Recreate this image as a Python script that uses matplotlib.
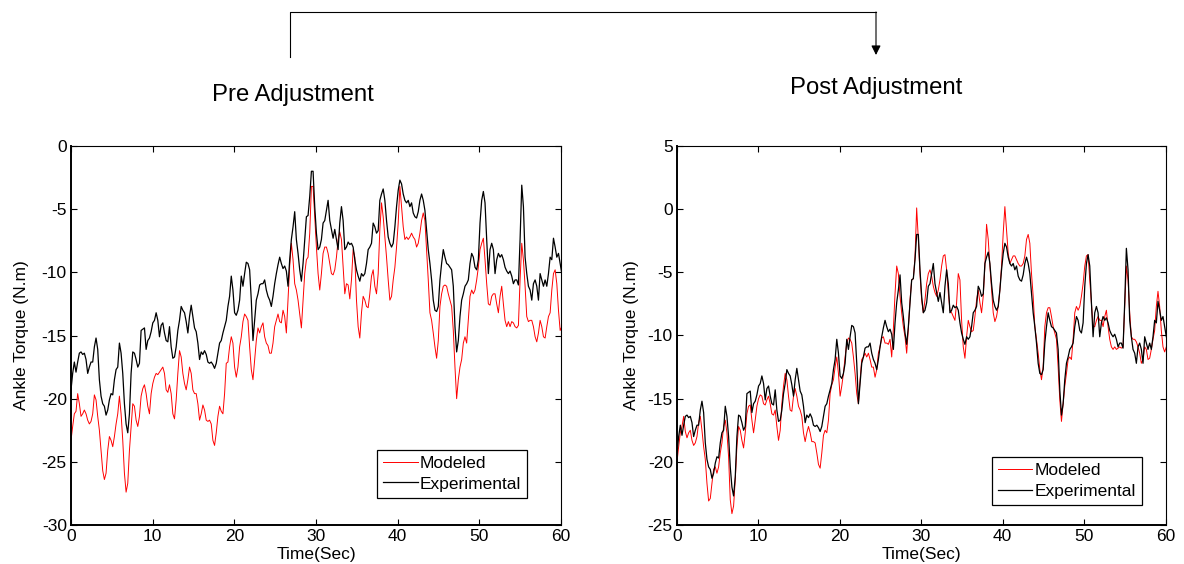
import matplotlib
matplotlib.use('Agg')
import matplotlib.pyplot as plt
import numpy as np
from matplotlib.lines import Line2D

plt.rcParams['font.family'] = ['Liberation Sans', 'DejaVu Sans']
plt.rcParams['axes.unicode_minus'] = False

# ankle torque traces, ~0.2 s apart
experimental = [
    -19.3, -18.0, -17.1, -17.9, -17.1, -16.4, -16.3, -16.5, -16.4, -16.9,
    -18.0, -17.5, -17.1, -17.1, -15.9, -15.2, -16.1, -18.5, -19.8, -20.4,
    -20.6, -21.3, -20.9, -20.1, -19.6, -19.7, -18.5, -17.7, -17.5, -15.6,
    -16.4, -18.0, -20.4, -22.0, -22.7, -21.2, -18.0, -16.3, -16.4, -16.9,
    -17.5, -17.2, -14.6, -14.5, -14.4, -16.1, -15.4, -15.2, -14.7, -14.0,
    -13.8, -13.2, -13.8, -15.1, -14.2, -14.0, -14.8, -15.4, -15.5, -14.3,
    -15.9, -16.8, -16.7, -15.9, -14.6, -13.8, -12.7, -13.0, -13.2, -13.9,
    -14.8, -13.5, -12.6, -13.5, -14.4, -14.7, -15.6, -16.9, -16.3, -16.5,
    -16.2, -16.5, -17.1, -17.2, -17.1, -17.3, -17.6, -17.2, -16.4, -15.6,
    -15.4, -14.8, -14.3, -13.8, -12.7, -11.9, -10.3, -11.4, -13.2, -13.4,
    -13.0, -12.2, -10.3, -11.1, -10.1, -9.2, -9.3, -9.8, -12.2, -15.4,
    -13.8, -12.2, -11.7, -11.0, -10.9, -10.9, -10.6, -11.4, -11.9, -12.2,
    -12.7, -11.9, -10.9, -10.1, -9.4, -8.8, -9.3, -9.7, -9.5, -9.9,
    -11.1, -9.0, -7.4, -6.4, -5.2, -7.4, -8.5, -9.8, -10.7, -9.3,
    -7.4, -5.6, -5.5, -4.0, -2.0,
    -2.0, -4.8, -6.9, -8.2, -8.0, -7.4, -6.1, -5.9, -5.1, -4.3,
    -5.9, -6.6, -7.3, -6.6, -7.4, -8.2, -6.1, -4.8, -5.9, -8.2,
    -8.0, -7.6, -7.8, -7.7, -8.0, -9.0, -9.8, -10.3, -10.7, -10.1,
    -10.3, -10.1, -9.3, -8.2, -8.0, -7.7, -6.1, -6.4, -6.9, -6.7,
    -4.3, -3.8, -3.4, -4.3, -5.9, -7.2, -7.7, -8.0, -7.7, -6.4,
    -4.8, -3.5, -2.7, -3.0, -3.8, -4.3, -4.5, -4.3, -4.8, -4.5,
    -5.3, -5.6, -5.7, -5.2, -4.3, -3.8, -4.3, -5.1, -6.7, -8.2,
    -9.3, -10.6, -12.2, -13.0, -13.1, -12.7, -10.6, -9.3, -8.2, -8.8,
    -9.3, -9.4, -9.6, -9.8, -11.1, -14.3, -16.3, -15.4, -13.5, -12.2,
    -11.7, -11.1, -10.9, -10.6, -9.3, -8.5, -8.8, -9.6, -9.8, -9.0,
    -6.1, -4.3, -3.6, -4.5, -7.4, -10.1, -8.2, -7.7, -8.2, -10.1,
    -9.0, -8.5, -8.8, -8.6, -9.0, -9.6, -9.9, -10.1, -9.9, -10.3,
    -10.9, -10.6, -10.6, -11.0, -7.4, -3.1, -4.8, -8.8, -10.1, -11.1,
    -11.4, -12.2, -10.9, -10.6, -11.1, -12.2, -10.1, -10.6, -11.1, -10.6,
    -11.1, -10.1, -8.8, -9.0, -7.3, -8.0, -8.8, -8.5, -9.3, -10.1,
]

modeled_pre = [
    -23.3, -22.2, -21.2, -21.0, -19.6, -20.4, -21.4, -21.2, -20.9, -21.2,
    -21.7, -22.0, -21.8, -21.2, -19.7, -20.1, -21.4, -22.5, -24.1, -25.7,
    -26.4, -25.9, -24.1, -23.0, -23.3, -23.8, -23.0, -22.0, -21.2, -19.8,
    -21.2, -23.3, -25.9, -27.4, -26.7, -24.1, -22.2, -20.4, -20.6, -21.7,
    -22.2, -21.4, -19.8, -19.2, -18.9, -19.6, -20.6, -21.2, -19.6, -18.8,
    -18.3, -18.0, -18.1, -17.9, -17.7, -17.5, -18.0, -19.3, -19.5, -18.9,
    -19.6, -21.2, -21.6, -20.1, -18.0, -16.2, -16.7, -18.0, -18.8, -19.3,
    -18.5, -17.5, -18.0, -19.3, -19.6, -19.6, -20.4, -21.7, -21.2, -20.5,
    -20.9, -21.7, -21.8, -21.7, -22.0, -23.3, -23.7, -22.7, -21.4, -20.6,
    -21.0, -21.2, -19.6, -17.2, -17.1, -15.9, -15.1, -15.6, -17.5, -18.3,
    -17.5, -15.9, -15.1, -13.9, -13.3, -13.5, -13.8, -15.9, -17.7, -18.5,
    -16.9, -15.4, -14.4, -14.8, -14.3, -14.0, -15.1, -15.6, -15.8, -16.4,
    -16.4, -15.6, -14.3, -13.8, -13.3, -13.9, -14.0, -13.0, -13.5, -14.8,
    -12.2, -9.5, -7.7, -9.0, -10.9, -11.4, -12.2, -13.3, -14.4, -12.2,
    -10.1, -9.0, -8.8, -6.9, -3.2,
    -3.2, -5.6, -8.0, -10.1, -11.4, -10.1, -8.5, -8.0, -8.0, -8.5,
    -9.3, -10.1, -10.2, -9.8, -8.8, -7.4, -6.8, -7.4, -9.6, -11.7,
    -10.9, -11.0, -12.1, -10.6, -8.2, -8.8, -12.2, -14.3, -15.2, -13.2,
    -11.9, -12.2, -12.7, -12.8, -11.7, -10.3, -9.8, -11.1, -11.7, -10.1,
    -6.6, -4.5, -5.6, -7.2, -8.8, -10.6, -12.2, -11.9, -10.6, -9.6,
    -8.0, -6.1, -3.2, -4.8, -6.4, -7.4, -7.2, -7.4, -7.2, -6.9,
    -7.2, -7.4, -8.0, -7.7, -6.9, -5.9, -5.3, -5.9, -8.2, -10.6,
    -13.2, -13.8, -14.8, -15.9, -16.8, -15.4, -12.7, -11.7, -11.1, -11.0,
    -11.1, -11.7, -12.2, -12.7, -14.6, -17.5, -20.0, -18.5, -17.5, -16.9,
    -15.6, -15.1, -15.6, -13.8, -11.9, -11.4, -11.7, -11.4, -10.6, -9.6,
    -8.2, -7.7, -7.3, -9.0, -10.9, -12.5, -12.6, -11.9, -11.7, -11.7,
    -12.5, -13.2, -11.9, -11.1, -12.5, -13.8, -14.3, -13.9, -14.3, -13.9,
    -14.0, -14.3, -14.4, -14.2, -10.6, -7.7, -9.0, -11.1, -13.5, -13.9,
    -13.8, -13.8, -14.3, -15.1, -15.5, -14.8, -13.8, -14.3, -15.1, -15.2,
    -14.3, -13.5, -13.2, -11.4, -10.1, -9.8, -10.9, -13.0, -14.6, -14.3,
]

modeled_post = [
    -20.0, -18.8, -17.7, -17.2, -16.4, -17.6, -18.1, -17.7, -17.5, -18.3,
    -18.7, -18.5, -18.0, -16.9, -16.4, -17.5, -18.8, -19.8, -21.7, -23.1,
    -22.9, -21.7, -20.6, -20.4, -20.9, -20.4, -19.3, -18.5, -17.2, -16.7,
    -17.7, -19.6, -23.0, -24.1, -23.5, -21.4, -18.8, -17.2, -17.5, -18.3,
    -18.9, -17.7, -16.2, -15.6, -15.5, -16.7, -17.7, -16.7, -15.6, -15.0,
    -14.7, -14.8, -15.4, -15.5, -15.1, -14.8, -15.4, -16.2, -16.3, -15.9,
    -17.2, -18.3, -17.5, -15.4, -14.0, -13.0, -13.5, -14.8, -15.9, -16.0,
    -14.8, -14.2, -14.8, -15.6, -15.9, -16.4, -17.7, -18.4, -17.7, -17.2,
    -17.7, -18.4, -18.4, -18.5, -19.3, -20.2, -20.5, -19.3, -17.9, -17.5,
    -17.7, -16.7, -14.6, -13.9, -13.5, -12.5, -11.7, -13.0, -14.8, -14.0,
    -13.0, -11.7, -10.6, -10.2, -10.3, -10.6, -11.7, -13.0, -14.6, -15.4,
    -13.5, -11.9, -11.7, -11.4, -11.7, -11.4, -11.9, -12.5, -12.5, -13.3,
    -12.7, -11.4, -10.9, -10.2, -10.1, -10.6, -10.6, -10.7, -10.3, -11.7,
    -9.5, -6.7, -4.5, -5.1, -6.9, -8.2, -9.3, -10.1, -11.4, -9.5,
    -7.2, -5.6, -5.5, -3.8, 0.1,
    -2.4, -5.1, -7.2, -8.2, -7.2, -5.9, -5.1, -4.8, -5.3, -6.1,
    -6.6, -6.9, -6.4, -5.6, -4.5, -3.7, -3.6, -4.8, -6.6, -8.0,
    -8.2, -8.5, -8.8, -7.4, -5.1, -5.6, -8.8, -10.9, -11.8, -10.1,
    -8.8, -9.3, -9.7, -9.6, -8.5, -7.2, -6.4, -7.4, -8.2, -6.9,
    -4.5, -1.2, -2.4, -4.5, -6.4, -8.2, -8.9, -8.5, -7.7, -6.4,
    -4.5, -1.9, 0.2, -1.6, -3.5, -4.3, -4.0, -3.7, -3.7, -4.0,
    -4.3, -4.5, -4.5, -4.3, -3.7, -2.4, -2.0, -2.7, -5.1, -6.9,
    -9.3, -10.3, -11.4, -12.7, -13.5, -12.5, -9.3, -8.2, -7.8, -7.8,
    -8.5, -9.3, -9.8, -10.3, -12.5, -15.1, -16.8, -15.4, -14.0, -13.0,
    -11.9, -11.7, -11.9, -10.3, -8.2, -7.7, -8.0, -7.7, -6.9, -5.9,
    -4.5, -3.7, -3.6, -5.6, -7.4, -9.3, -9.3, -8.8, -8.5, -8.8,
    -8.8, -9.3, -8.5, -8.0, -9.3, -10.3, -10.9, -11.1, -10.9, -11.1,
    -11.0, -10.9, -11.0, -10.9, -7.7, -4.5, -5.6, -8.2, -10.1, -10.3,
    -10.3, -10.5, -10.9, -11.4, -12.2, -11.9, -10.9, -11.1, -11.9, -11.8,
    -11.1, -10.3, -9.6, -7.7, -6.5, -7.7, -9.6, -10.9, -11.3, -10.9,
]

time = np.linspace(0, 60.1, len(experimental))

panels = [
    (modeled_pre, (-30, 0), 'Pre Adjustment'),
    (modeled_post, (-25, 5), 'Post Adjustment'),
]

fig = plt.figure(figsize=(11.84, 5.64), dpi=100)
W, H = 1184.0, 564.0
boxes = [(71, 561), (677, 1165.5)]
legend_pos = [(0.6245, 0.198), (0.644, 0.179)]
ylabel_x = [-0.086, -0.078]

for i, (modeled, ylim, name) in enumerate(panels):
    x0, x1 = boxes[i]
    ax = fig.add_axes([x0 / W, 1 - 525 / H, (x1 - x0) / W, (525 - 146) / H])
    ax.plot(time, modeled, color='red', lw=0.7, label='Modeled')
    ax.plot(time, experimental, color='black', lw=0.9, label='Experimental')
    ax.set_xlim(0, 60)
    ax.set_ylim(*ylim)
    ax.set_xticks(np.arange(0, 61, 10))
    ax.set_yticks(np.arange(ylim[0], ylim[1] + 1, 5))
    ax.tick_params(direction='in', top=True, right=True, length=4,
                   width=0.8, labelsize=12.5, pad=3)
    for side in ['left', 'bottom']:
        ax.spines[side].set_linewidth(1.4)
    for side in ['top', 'right']:
        ax.spines[side].set_linewidth(0.8)
    ax.set_xlabel('Time(Sec)', fontsize=12.5)
    ax.set_ylabel('Ankle Torque (N.m)', fontsize=12.5)
    ax.xaxis.set_label_coords(0.5, -0.058)
    ax.yaxis.set_label_coords(ylabel_x[i], 0.5)
    leg = ax.legend(loc='upper left', bbox_to_anchor=legend_pos[i],
                    fontsize=12.5, frameon=True, fancybox=False,
                    edgecolor='black', framealpha=1, borderaxespad=0,
                    borderpad=0.35, labelspacing=0.3, handlelength=2.0,
                    handletextpad=0.1)
    leg.get_frame().set_linewidth(0.9)

fig.text(293 / W, 1 - 95 / H, 'Pre Adjustment', fontsize=17.2,
         ha='center', va='center')
fig.text(876 / W, 1 - 88 / H, 'Post Adjustment', fontsize=17.2,
         ha='center', va='center')

# connector arrow between the two titles
fig.add_artist(Line2D([290 / W, 290 / W, 876 / W], [1 - 57 / H, 1 - 12 / H, 1 - 12 / H],
                      transform=fig.transFigure, color='black', lw=0.8))
fig.add_artist(matplotlib.patches.FancyArrowPatch(
    (876 / W, 1 - 12 / H), (876 / W, 1 - 55 / H), transform=fig.transFigure,
    arrowstyle='-|>', mutation_scale=14, color='black', lw=0.8,
    shrinkA=0, shrinkB=0))

fig.savefig('out.png', dpi=100)
